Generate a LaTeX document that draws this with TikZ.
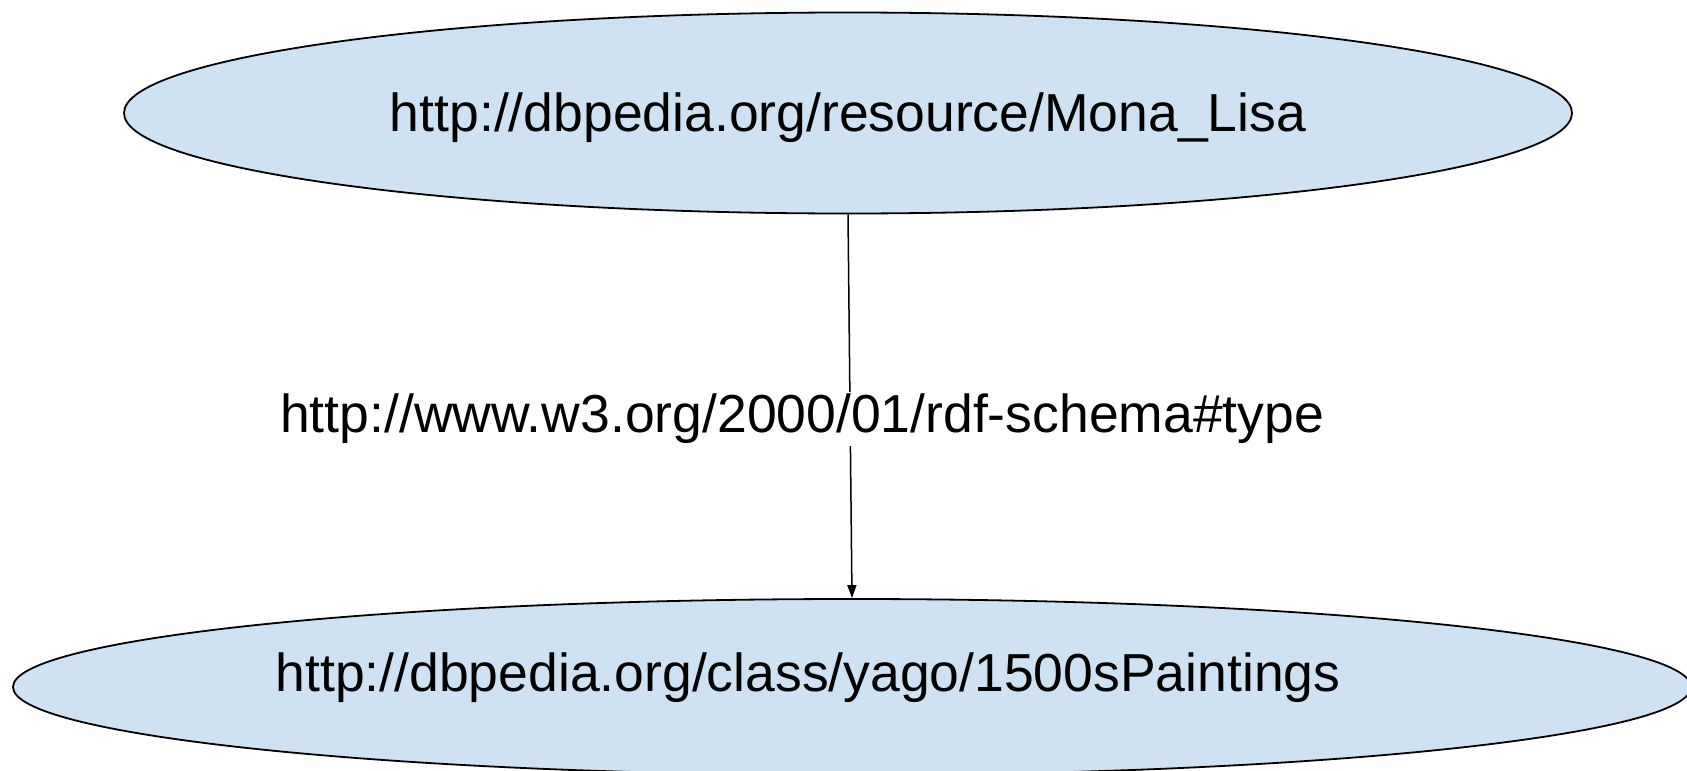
\documentclass[tikz,border=0pt]{standalone}
\usepackage{fontspec}
\setmainfont{Liberation Sans}
\usetikzlibrary{shapes.geometric,arrows.meta}
\definecolor{nodeblue}{HTML}{CFE2F3}
\tikzset{
  res/.style={ellipse, draw=black, line width=1.8bp, fill=nodeblue, inner sep=0pt},
  restext/.style={inner sep=0pt, font=\fontsize{53.5bp}{60bp}\selectfont},
  edge/.style={draw=black, line width=1.5bp, -{Triangle[length=13bp,width=9bp]}},
  elabel/.style={fill=white, inner sep=2bp, font=\fontsize{53.5bp}{60bp}\selectfont}
}
\begin{document}
\begin{tikzpicture}[x=1bp,y=-1bp]
\useasboundingbox (0,0) rectangle (1687,771);
\node[res, minimum width=1448bp, minimum height=201bp] (top) at (848,113) {};
\node[res, minimum width=1678bp, minimum height=176bp] (bot) at (852,687) {};
\node[restext] (toptext) at ([yshift=-5bp]top.center) {http://dbpedia.org/resource/Mona\_Lisa};
\node[restext] (bottext) at ([xshift=-44bp,yshift=9bp]bot.center) {http://dbpedia.org/class/yago/1500sPaintings};
\draw[edge] (top.south) -- node[elabel, pos=0.52, xshift=-48bp, yshift=-5bp] {http://www.w3.org/2000/01/rdf-schema\#type} (bot.north);
\end{tikzpicture}
\end{document}
